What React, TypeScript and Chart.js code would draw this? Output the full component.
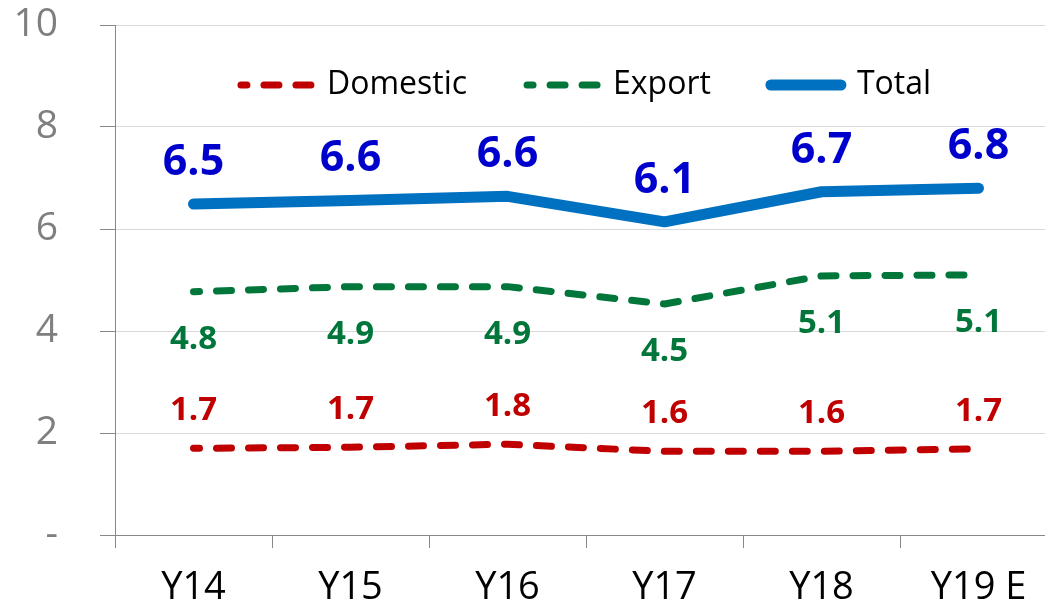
import React, { useEffect, useRef } from 'react';
import { Chart, registerables } from 'chart.js';

Chart.register(...registerables);

const categories = ['Y14', 'Y15', 'Y16', 'Y17', 'Y18', 'Y19 E'];
const domesticValues = [1.7, 1.72, 1.78, 1.64, 1.64, 1.69];
const exportValues = [4.77, 4.87, 4.87, 4.53, 5.08, 5.1];
const totalValues = [6.49, 6.56, 6.64, 6.14, 6.73, 6.8];
const seriesNames = ['Domestic', 'Export', 'Total'];
const yMin = 0;
const yMax = 10;
const yStep = 2;

const FONT = '"Open Sans", "DejaVu Sans", sans-serif';

const labelStyles = [
  { color: '#C00000', size: 33, offset: -28 },
  { color: '#00763A', size: 33, offset: 57 },
  { color: '#0000CC', size: 43, offset: -29 },
];

const valueLabelPlugin = {
  id: 'valueLabels',
  afterDatasetsDraw(chart: any) {
    const ctx = chart.ctx;
    chart.data.datasets.forEach((ds: any, i: number) => {
      const meta = chart.getDatasetMeta(i);
      const st = labelStyles[i];
      meta.data.forEach((pt: any, j: number) => {
        ctx.save();
        ctx.font = `bold ${st.size}px ${FONT}`;
        ctx.fillStyle = st.color;
        ctx.textAlign = 'center';
        ctx.textBaseline = 'alphabetic';
        ctx.fillText(Number(ds.data[j]).toFixed(1), pt.x, pt.y + st.offset);
        ctx.restore();
      });
    });
  },
};

// lay the legend out as one horizontal row inside the plot area, centred over it
const legendRowPlugin = {
  id: 'legendRow',
  afterInit(chart: any) {
    if (chart.legend) {
      chart.legend.isHorizontal = () => true;
    }
  },
  afterLayout(chart: any) {
    const lg = chart.legend;
    const ca = chart.chartArea;
    if (lg && ca) {
      lg.left = ca.left;
      lg.right = ca.right;
      lg.width = ca.right - ca.left;
    }
  },
};

const CANVAS_W = 1057;
const CANVAS_H = 640;

export default function App() {
  const ref = useRef<HTMLCanvasElement | null>(null);

  useEffect(() => {
    if (!ref.current) return;
    const dashed = {
      borderDash: [15, 17],
      borderDashOffset: 9,
      borderCapStyle: 'round',
      borderJoinStyle: 'round',
      borderWidth: 7,
    };
    const chart = new Chart(ref.current, {
      type: 'line',
      data: {
        labels: categories,
        datasets: [
          {
            label: seriesNames[0],
            data: domesticValues,
            borderColor: '#C00000',
            backgroundColor: '#C00000',
            ...dashed,
            pointRadius: 0,
            tension: 0,
            fill: false,
          },
          {
            label: seriesNames[1],
            data: exportValues,
            borderColor: '#00763A',
            backgroundColor: '#00763A',
            ...dashed,
            pointRadius: 0,
            tension: 0,
            fill: false,
          },
          {
            label: seriesNames[2],
            data: totalValues,
            borderColor: '#0070C0',
            backgroundColor: '#0070C0',
            borderWidth: 11,
            borderCapStyle: 'round',
            borderJoinStyle: 'round',
            pointRadius: 0,
            tension: 0,
            fill: false,
          },
        ],
      } as any,
      options: {
        responsive: false,
        animation: false,
        layout: { padding: { top: 25, left: 0, right: 0, bottom: 0 } },
        plugins: {
          tooltip: { enabled: false },
          title: { display: false },
          legend: {
            position: 'chartArea',
            align: 'center',
            title: {
              display: true,
              text: '',
              font: { size: 10 },
              padding: { top: -28, bottom: 0 },
            },
            labels: {
              usePointStyle: true,
              pointStyleWidth: 70,
              boxHeight: 11,
              padding: 60,
              color: '#000000',
              font: { family: FONT, size: 32 },
              generateLabels: (c: any) =>
                c.data.datasets.map((ds: any, i: number) => ({
                  text: ds.label,
                  fillStyle: ds.borderColor,
                  strokeStyle: ds.borderColor,
                  fontColor: '#000000',
                  lineWidth: ds.borderWidth,
                  lineDash: ds.borderDash || [],
                  lineDashOffset: ds.borderDashOffset || 0,
                  lineCap: 'round',
                  lineJoin: 'round',
                  pointStyle: 'line',
                  rotation: 0,
                  hidden: false,
                  datasetIndex: i,
                })),
            },
          },
        },
        scales: {
          x: {
            offset: true,
            afterFit: (scale: any) => {
              scale.height = CANVAS_H - 535;
            },
            grid: {
              display: true,
              drawOnChartArea: false,
              drawTicks: true,
              tickLength: 13,
              tickColor: '#888888',
              offset: true,
            },
            border: { display: true, color: '#888888', width: 1 },
            ticks: {
              color: '#000000',
              font: { family: FONT, size: 38 },
              padding: 17,
              autoSkip: false,
              maxRotation: 0,
            },
          },
          y: {
            min: yMin,
            max: yMax,
            afterFit: (scale: any) => {
              scale.width = 115;
              scale.paddingTop = 0;
              scale.paddingBottom = 0;
            },
            grid: {
              color: (c: any) => (c.tick && c.tick.value === 0 ? '#888888' : '#D9D9D9'),
              tickColor: '#888888',
              tickLength: 15,
              lineWidth: 1,
            },
            border: { display: true, color: '#888888', width: 1 },
            ticks: {
              stepSize: yStep,
              color: '#7F7F7F',
              font: { family: FONT, size: 39 },
              padding: 42,
              callback: (v: any) => (Number(v) === 0 ? '-' : String(v)),
            },
          },
        },
      } as any,
      plugins: [legendRowPlugin, valueLabelPlugin],
    });
    return () => chart.destroy();
  }, []);

  return (
    <div
      style={{
        position: 'fixed',
        left: 0,
        top: 0,
        width: 1045,
        height: 605,
        overflow: 'hidden',
        background: '#ffffff',
      }}
    >
      <canvas
        ref={ref}
        width={CANVAS_W}
        height={CANVAS_H}
        style={{ display: 'block', width: CANVAS_W, height: CANVAS_H }}
      />
    </div>
  );
}
